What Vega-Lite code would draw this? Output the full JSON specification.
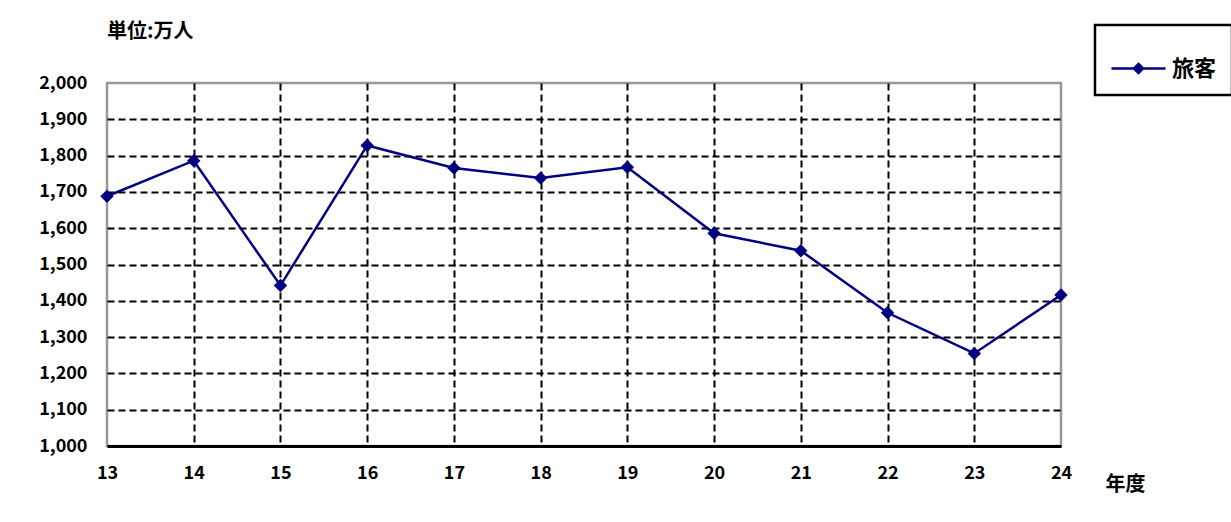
{
  "$schema": "https://vega.github.io/schema/vega-lite/v6.json",
  "autosize": {"type": "none"},
  "padding": {"left": 107, "top": 83, "right": 170, "bottom": 76},
  "width": 954,
  "height": 363,
  "background": "white",
  "title": {
    "text": "単位:万人",
    "anchor": "start",
    "frame": "group",
    "font": "Noto Sans CJK JP",
    "fontSize": 20,
    "fontWeight": "bold",
    "color": "#000000",
    "offset": -18
  },
  "data": {
    "values": [
      {"year": 13, "value": 1688, "series": "旅客"},
      {"year": 14, "value": 1786, "series": "旅客"},
      {"year": 15, "value": 1442, "series": "旅客"},
      {"year": 16, "value": 1828, "series": "旅客"},
      {"year": 17, "value": 1766, "series": "旅客"},
      {"year": 18, "value": 1738, "series": "旅客"},
      {"year": 19, "value": 1768, "series": "旅客"},
      {"year": 20, "value": 1586, "series": "旅客"},
      {"year": 21, "value": 1538, "series": "旅客"},
      {"year": 22, "value": 1367, "series": "旅客"},
      {"year": 23, "value": 1255, "series": "旅客"},
      {"year": 24, "value": 1416, "series": "旅客"}
    ]
  },
  "mark": {
    "type": "line",
    "strokeWidth": 2.5,
    "point": {"shape": "diamond", "size": 180, "filled": true}
  },
  "encoding": {
    "x": {
      "field": "year",
      "type": "quantitative",
      "scale": {"domain": [13, 24], "nice": false, "zero": false},
      "axis": {
        "values": [13, 14, 15, 16, 17, 18, 19, 20, 21, 22, 23, 24],
        "title": "年度",
        "titleX": 1018,
        "titleY": 38,
        "titleAlign": "center",
        "titleBaseline": "middle",
        "titleFont": "Noto Sans CJK JP",
        "titleFontSize": 20,
        "titleFontWeight": "bold",
        "titleColor": "#000000",
        "labelFont": "Noto Sans CJK JP",
        "labelFontSize": 18,
        "labelFontWeight": "bold",
        "labelColor": "#000000",
        "labelPadding": 18,
        "labelBaseline": "top",
        "labelFlush": false,
        "ticks": false,
        "domainColor": "#000000",
        "domainWidth": 3,
        "grid": true,
        "gridColor": "#000000",
        "gridWidth": 2,
        "gridDash": [7, 4],
        "gridOpacity": {"condition": {"test": "datum.value === 13 || datum.value === 24", "value": 0}, "value": 1}
      }
    },
    "y": {
      "field": "value",
      "type": "quantitative",
      "scale": {"domain": [1000, 2000], "nice": false, "zero": false},
      "axis": {
        "values": [1000, 1100, 1200, 1300, 1400, 1500, 1600, 1700, 1800, 1900, 2000],
        "format": ",d",
        "title": null,
        "labelFont": "Noto Sans CJK JP",
        "labelFontSize": 18,
        "labelFontWeight": "bold",
        "labelColor": "#000000",
        "labelPadding": 20,
        "labelFlush": false,
        "ticks": false,
        "domain": false,
        "grid": true,
        "gridColor": "#000000",
        "gridWidth": 2,
        "gridDash": [7, 4],
        "gridOpacity": {"condition": {"test": "datum.value === 1000 || datum.value === 2000", "value": 0}, "value": 1}
      }
    },
    "color": {
      "field": "series",
      "type": "nominal",
      "scale": {"range": ["#000080"]},
      "legend": {
        "title": null,
        "orient": "none",
        "legendX": 988,
        "legendY": -58,
        "padding": 15,
        "strokeColor": "#000000",
        "fillColor": "#ffffff",
        "symbolType": "M-1,0H1M0,-0.17L0.17,0L0,0.17L-0.17,0Z",
        "symbolSize": 2916,
        "symbolStrokeWidth": 2.5,
        "symbolFillColor": "#000080",
        "symbolStrokeColor": "#000080",
        "labelFont": "Noto Sans CJK JP",
        "labelFontSize": 22,
        "labelFontWeight": "bold",
        "labelColor": "#000000",
        "labelOffset": 5,
        "encode": {"legend": {"update": {"strokeWidth": {"value": 2.5}}}}
      }
    }
  },
  "config": {
    "view": {"stroke": "#999999", "strokeWidth": 2.5}
  }
}
